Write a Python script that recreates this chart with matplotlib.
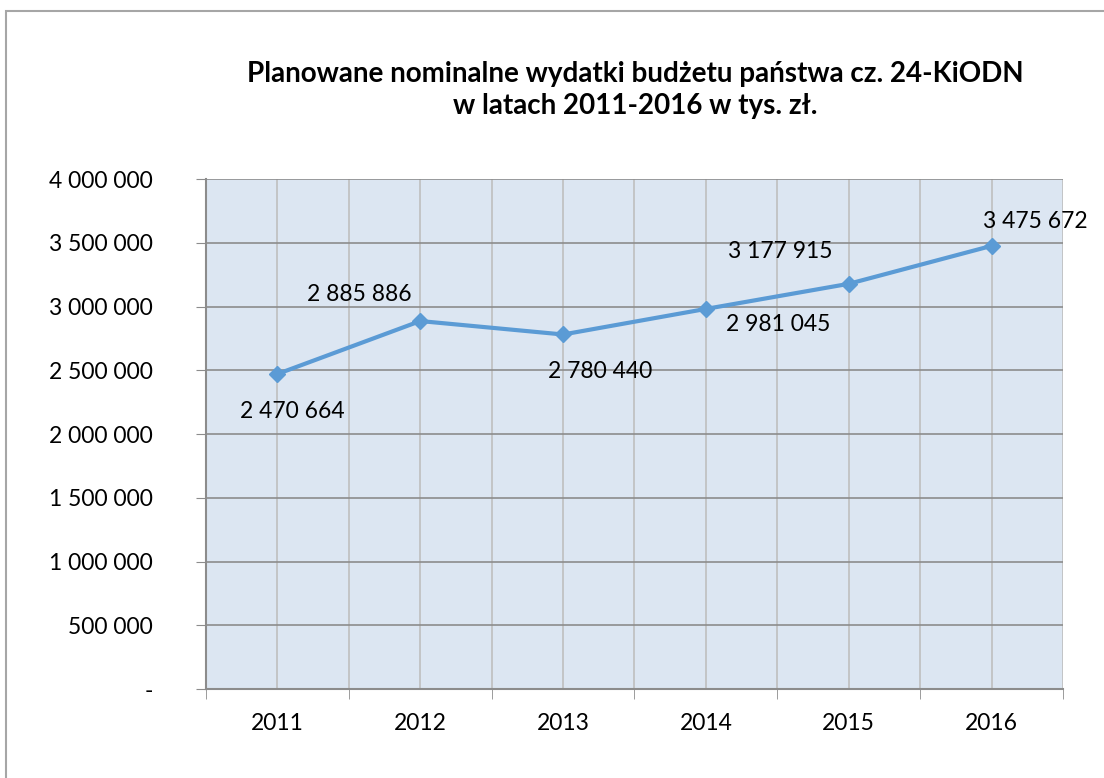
import matplotlib.pyplot as plt
from matplotlib.patches import Rectangle
from matplotlib.ticker import FuncFormatter, MultipleLocator

# dane
lata = ["2011", "2012", "2013", "2014", "2015", "2016"]
wydatki = [2470664, 2885886, 2780440, 2981045, 3177915, 3475672]
# przesunięcia etykiet danych (piksele)
przesuniecia = [(15, -38), (-61, 27), (37, -37), (72, -16), (-68, 32), (44, 24)]

plt.rcParams['font.family'] = ['Lato', 'DejaVu Sans']

fig = plt.figure(figsize=(11.04, 7.78), dpi=100)
fig.patches.append(Rectangle((6 / 1104, -0.1), 1.2, 1.1 - 11 / 778,
                             transform=fig.transFigure, fill=False,
                             edgecolor="#a6a6a6", linewidth=1.5))

ax = fig.add_axes([206 / 1104, 1 - 689 / 778, (1063 - 206) / 1104, (689 - 179) / 778])
ax.set_facecolor("#dce6f2")

x = list(range(len(lata)))
ax.plot(x, wydatki, color="#5b9bd5", marker="D", markersize=8, linewidth=3, zorder=3)

def fmt(v):
    return f"{v:,.0f}".replace(",", " ")

for xi, v, (dx, dy) in zip(x, wydatki, przesuniecia):
    ax.annotate(fmt(v), (xi, v), xytext=(dx, dy), textcoords="offset pixels",
                ha="center", va="center", fontsize=16.5, color="black")

ax.set_xlim(-0.5, len(lata) - 0.5)
ax.set_ylim(0, 4000000)
ax.yaxis.set_major_locator(MultipleLocator(500000))
ax.yaxis.set_major_formatter(FuncFormatter(lambda v, p: "-" if v == 0 else fmt(v)))

ax.set_xticks(x)
ax.set_xticklabels(lata)
ax.set_xticks([i - 0.5 for i in range(len(lata) + 1)], minor=True)

ax.grid(True, axis="y", color="#8c8c8c", linewidth=1.2)
ax.grid(True, axis="x", which="both", color="#bfbfbf", linewidth=1.2)
ax.set_axisbelow(True)

for s in ["top", "right"]:
    ax.spines[s].set_visible(False)
for s in ["left", "bottom"]:
    ax.spines[s].set_color("#8c8c8c")
    ax.spines[s].set_linewidth(1.5)

ax.tick_params(axis="y", length=7, color="#8c8c8c", labelsize=16.5, pad=31)
ax.tick_params(axis="x", which="major", length=0, labelsize=16.5, pad=17)
ax.tick_params(axis="x", which="minor", length=7, color="#8c8c8c")

fig.text(635 / 1104, 1 - 90 / 778,
         "Planowane nominalne wydatki budżetu państwa cz. 24-KiODN\nw latach 2011-2016 w tys. zł.",
         ha="center", va="center", fontsize=20, fontweight="bold", linespacing=1.3)

fig.savefig("out.png", dpi=100)
